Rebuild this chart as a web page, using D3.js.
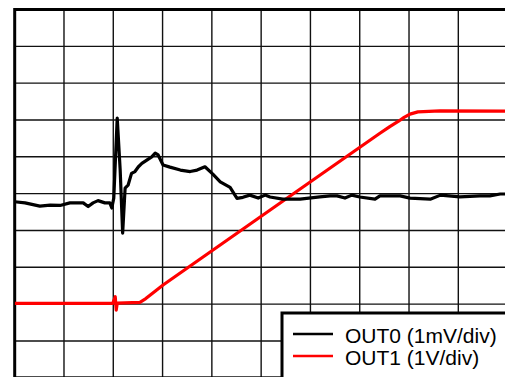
<!DOCTYPE html>
<html>
<head>
<meta charset="utf-8">
<script src="https://cdn.jsdelivr.net/npm/d3@7"></script>
<style>
  html, body { margin: 0; padding: 0; background: #fff; }
  svg { display: block; }
</style>
</head>
<body>
<div id="chart"></div>
<script>
// Time axis in divisions (0..10), amplitude in divisions (0..10)
const gridDivs = [0,1,2,3,4,5,6,7,8,9,10];

const seriesNames = ["OUT0 (1mV/div)", "OUT1 (1V/div)"];
const seriesColors = ["#000000", "#ff0000"];

// OUT0 trace: [time(div), level(div)]
const out0 = [
  [0.00,4.78],[0.21,4.75],[0.51,4.66],[0.72,4.69],[0.92,4.68],[1.12,4.75],
  [1.39,4.75],[1.49,4.65],[1.59,4.75],[1.69,4.81],[1.83,4.75],[1.93,4.75],
  [1.97,4.61],[2.01,4.88],[2.08,7.05],[2.14,5.64],[2.19,3.93],[2.24,5.15],
  [2.30,5.23],[2.37,5.55],[2.44,5.60],[2.51,5.73],[2.58,5.82],[2.68,5.91],
  [2.78,6.00],[2.85,6.10],[2.91,6.05],[3.01,5.78],[3.15,5.72],[3.36,5.64],
  [3.56,5.60],[3.70,5.64],[3.86,5.73],[4.02,5.53],[4.17,5.32],[4.37,5.17],
  [4.51,4.87],[4.63,4.90],[4.77,4.96],[4.94,4.88],[5.08,4.96],[5.18,4.91],
  [5.44,4.85],[5.79,4.85],[6.19,4.91],[6.40,4.94],[6.54,4.94],[6.70,4.88],
  [6.84,4.96],[7.00,4.91],[7.31,4.85],[7.41,4.94],[7.82,4.94],[8.02,4.88],
  [8.43,4.85],[8.64,4.96],[9.03,4.91],[9.44,4.94],[9.64,4.94],[9.85,4.99],
  [10.0,4.99]
];

// OUT1 trace: [time(div), level(div)]
const out1 = [
  [0.00,2.02],[1.99,2.02],[2.04,2.20],[2.06,1.84],[2.08,2.03],[2.54,2.05],
  [2.66,2.15],[2.79,2.29],[3.01,2.52],[3.35,2.84],[4.77,4.17],[6.19,5.50],
  [7.41,6.64],[7.61,6.82],[7.78,6.96],[7.90,7.07],[8.02,7.16],[8.18,7.22],
  [8.63,7.25],[10.0,7.24]
];

const W = 505, H = 377;
const x = d3.scaleLinear().domain([0, 10]).range([14.7, 507.6]);
const y = d3.scaleLinear().domain([0, 10]).range([377.8, 9.5]);

const svg = d3.select("#chart").append("svg")
  .attr("width", W).attr("height", H);

svg.append("defs").append("clipPath").attr("id", "plotclip")
  .append("rect")
  .attr("x", x(0)).attr("y", y(10))
  .attr("width", x(10) - x(0)).attr("height", y(0) - y(10));

// grid
const grid = svg.append("g");
grid.selectAll("line.v").data(gridDivs.slice(1, 10)).join("line")
  .attr("x1", d => x(d)).attr("x2", d => x(d))
  .attr("y1", y(10)).attr("y2", y(0))
  .attr("stroke", "#111").attr("stroke-width", 1.4);
grid.selectAll("line.h").data(gridDivs.slice(1, 10)).join("line")
  .attr("y1", d => y(d)).attr("y2", d => y(d))
  .attr("x1", x(0)).attr("x2", x(10))
  .attr("stroke", "#111").attr("stroke-width", 1.4);

// frame
svg.append("rect")
  .attr("x", x(0)).attr("y", y(10))
  .attr("width", x(10) - x(0)).attr("height", y(0) - y(10))
  .attr("fill", "none").attr("stroke", "#000").attr("stroke-width", 3);

const line = d3.line().x(d => x(d[0])).y(d => y(d[1]));

const traces = svg.append("g").attr("clip-path", "url(#plotclip)");
traces.append("path").datum(out1)
  .attr("d", line).attr("fill", "none")
  .attr("stroke", seriesColors[1]).attr("stroke-width", 3.2)
  .attr("stroke-linejoin", "round");
traces.append("path").datum(out0)
  .attr("d", line).attr("fill", "none")
  .attr("stroke", seriesColors[0]).attr("stroke-width", 3.2)
  .attr("stroke-linejoin", "round");

// legend
const lg = svg.append("g");
lg.append("rect")
  .attr("x", 282).attr("y", 313)
  .attr("width", 260).attr("height", 100)
  .attr("fill", "#fff").attr("stroke", "#000").attr("stroke-width", 3);
seriesNames.forEach((name, i) => {
  const cy = 334 + i * 22;
  lg.append("line")
    .attr("x1", 293).attr("x2", 333).attr("y1", cy).attr("y2", cy)
    .attr("stroke", seriesColors[i]).attr("stroke-width", 2.5);
  lg.append("text")
    .attr("x", 345).attr("y", 343 + i * 22)
    .attr("font-family", "Arial, 'Liberation Sans', sans-serif")
    .attr("font-size", 21)
    .attr("fill", "#000")
    .text(name);
});
</script>
</body>
</html>
